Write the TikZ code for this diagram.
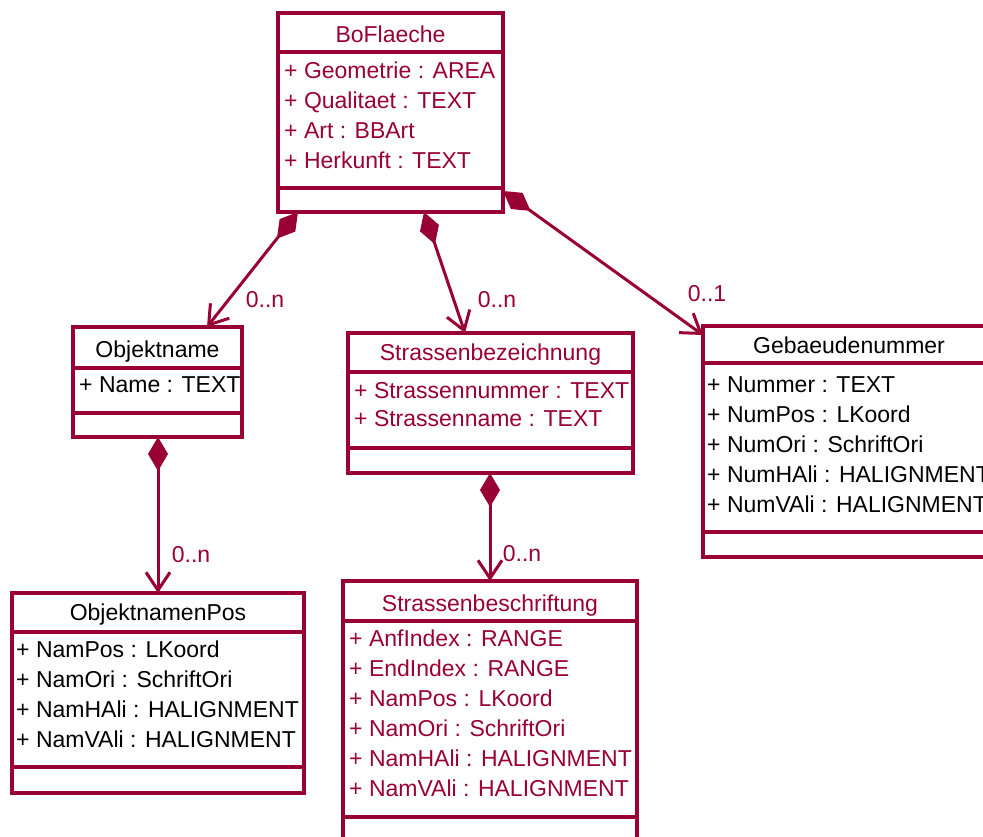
\documentclass[tikz,border=0pt]{standalone}
\usepackage{fontspec}
\setmainfont{Liberation Sans}
\usetikzlibrary{arrows.meta}
\definecolor{umlred}{RGB}{153,0,51}
\begin{document}
\begin{tikzpicture}[x=1pt,y=-1pt,
  cls/.style={draw=umlred,line width=3.4pt,rectangle,anchor=north west,inner sep=0pt,outer sep=0pt},
  sep/.style={draw=umlred,line width=3.4pt},
  ttl/.style={anchor=base,inner sep=0pt,font=\fontsize{23pt}{30pt}\selectfont},
  attr/.style={anchor=base west,inner sep=0pt,font=\fontsize{23pt}{30pt}\selectfont},
  lbl/.style={anchor=center,inner sep=0pt,text=umlred,font=\fontsize{23pt}{30pt}\selectfont},
  comp/.style={draw=umlred,line width=3pt,
    {Diamond[length=34pt,width=20pt]}-{Straight Barb[length=18pt,width=24pt]}}
]
\useasboundingbox (0,0) rectangle (983,836);

% BoFlaeche
\node[cls,minimum width=225pt,minimum height=199pt] (bo) at (278,13) {};
\draw[sep] ([yshift=-39pt]bo.north west) -- ([yshift=-39pt]bo.north east);
\draw[sep] ([yshift=24pt]bo.south west) -- ([yshift=24pt]bo.south east);
\node[ttl,text=umlred] (bo-t) at (390.5,42) {BoFlaeche};
\node[attr,text=umlred] (bo-a1) at (284,78) {+ Geometrie : AREA};
\node[attr,text=umlred] (bo-a2) at (284,108) {+ Qualitaet : TEXT};
\node[attr,text=umlred] (bo-a3) at (284,138) {+ Art : BBArt};
\node[attr,text=umlred] (bo-a4) at (284,168) {+ Herkunft : TEXT};

% Objektname
\node[cls,minimum width=169pt,minimum height=110pt] (on) at (73,327) {};
\draw[sep] ([yshift=-41pt]on.north west) -- ([yshift=-41pt]on.north east);
\draw[sep] ([yshift=24pt]on.south west) -- ([yshift=24pt]on.south east);
\node[ttl,text=black] (on-t) at (157.5,357) {Objektname};
\node[attr,text=black] (on-a1) at (79,392) {+ Name : TEXT};

% Strassenbezeichnung
\node[cls,minimum width=285pt,minimum height=140pt] (sz) at (348,333) {};
\draw[sep] ([yshift=-39pt]sz.north west) -- ([yshift=-39pt]sz.north east);
\draw[sep] ([yshift=25pt]sz.south west) -- ([yshift=25pt]sz.south east);
\node[ttl,text=umlred] (sz-t) at (490.5,360) {Strassenbezeichnung};
\node[attr,text=umlred] (sz-a1) at (354,398) {+ Strassennummer : TEXT};
\node[attr,text=umlred] (sz-a2) at (354,426) {+ Strassenname : TEXT};

% Gebaeudenummer
\node[cls,minimum width=292pt,minimum height=231pt] (gn) at (703,326) {};
\draw[sep] ([yshift=-37pt]gn.north west) -- ([yshift=-37pt]gn.north east);
\draw[sep] ([yshift=25pt]gn.south west) -- ([yshift=25pt]gn.south east);
\node[ttl,text=black] (gn-t) at (849,353) {Gebaeudenummer};
\node[attr,text=black] (gn-a1) at (707,392) {+ Nummer : TEXT};
\node[attr,text=black] (gn-a2) at (707,422) {+ NumPos : LKoord};
\node[attr,text=black] (gn-a3) at (707,452) {+ NumOri : SchriftOri};
\node[attr,text=black] (gn-a4) at (707,482) {+ NumHAli : HALIGNMENT};
\node[attr,text=black] (gn-a5) at (707,512) {+ NumVAli : HALIGNMENT};

% ObjektnamenPos
\node[cls,minimum width=292pt,minimum height=200pt] (op) at (12,593) {};
\draw[sep] ([yshift=-39pt]op.north west) -- ([yshift=-39pt]op.north east);
\draw[sep] ([yshift=26pt]op.south west) -- ([yshift=26pt]op.south east);
\node[ttl,text=black] (op-t) at (158,620) {ObjektnamenPos};
\node[attr,text=black] (op-a1) at (16,657) {+ NamPos : LKoord};
\node[attr,text=black] (op-a2) at (16,687) {+ NamOri : SchriftOri};
\node[attr,text=black] (op-a3) at (16,717) {+ NamHAli : HALIGNMENT};
\node[attr,text=black] (op-a4) at (16,747) {+ NamVAli : HALIGNMENT};

% Strassenbeschriftung
\node[cls,minimum width=294pt,minimum height=265pt] (sb) at (343,581) {};
\draw[sep] ([yshift=-40pt]sb.north west) -- ([yshift=-40pt]sb.north east);
\draw[sep] ([yshift=29pt]sb.south west) -- ([yshift=29pt]sb.south east);
\node[ttl,text=umlred] (sb-t) at (490,611) {Strassenbeschriftung};
\node[attr,text=umlred] (sb-a1) at (349,646) {+ AnfIndex : RANGE};
\node[attr,text=umlred] (sb-a2) at (349,676) {+ EndIndex : RANGE};
\node[attr,text=umlred] (sb-a3) at (349,706) {+ NamPos : LKoord};
\node[attr,text=umlred] (sb-a4) at (349,736) {+ NamOri : SchriftOri};
\node[attr,text=umlred] (sb-a5) at (349,766) {+ NamHAli : HALIGNMENT};
\node[attr,text=umlred] (sb-a6) at (349,796) {+ NamVAli : HALIGNMENT};

% connectors
\draw[comp] ([xshift=20pt]bo.south west) -- ([xshift=134pt]on.north west);
\draw[comp] ([xshift=146pt]bo.south west) -- ([xshift=117pt]sz.north west);
\draw[comp] ([yshift=21pt]bo.south east) -- ([yshift=-9pt]gn.north west);
\draw[comp] ([xshift=85pt]on.south west) -- ([xshift=146pt]op.north west);
\draw[comp] ([xshift=142pt]sz.south west) -- ([xshift=147pt]sb.north west);

% multiplicities
\node[lbl] (m1) at (265,300) {0..n};
\node[lbl] (m2) at (497,300) {0..n};
\node[lbl] (m3) at (707,294) {0..1};
\node[lbl] (m4) at (191,555) {0..n};
\node[lbl] (m5) at (522,554) {0..n};
\end{tikzpicture}
\end{document}
